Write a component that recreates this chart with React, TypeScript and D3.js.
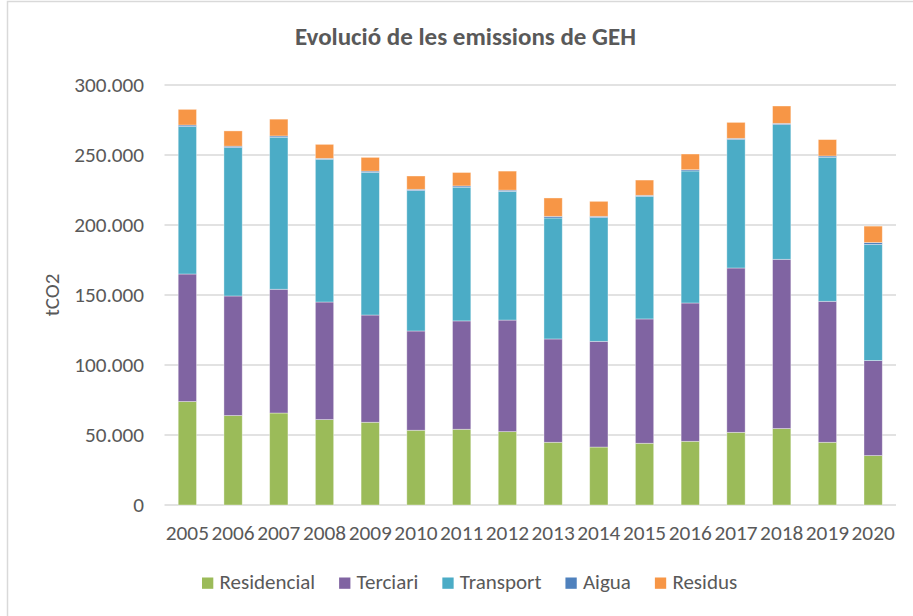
import React, { useEffect, useRef } from 'react';
import * as d3 from 'd3';

const years = ['2005', '2006', '2007', '2008', '2009', '2010', '2011', '2012', '2013', '2014', '2015', '2016', '2017', '2018', '2019', '2020'];
const residencial = [73900, 63900, 65700, 61000, 59100, 53400, 54100, 52400, 44800, 41400, 44100, 45500, 51900, 54600, 44800, 35300];
const terciari = [91100, 85400, 88400, 84000, 76600, 70900, 77400, 79700, 73800, 75500, 88800, 98800, 117400, 120900, 100700, 67900];
const transport = [105300, 106000, 108600, 101900, 101900, 100300, 95500, 91900, 86400, 88400, 87600, 94300, 91700, 96200, 102900, 82900];
const aigua = [1100, 1000, 900, 700, 900, 900, 900, 900, 1200, 900, 700, 900, 900, 900, 900, 1400];
const residus = [11200, 10900, 12000, 10000, 9800, 9500, 9600, 13600, 13100, 10700, 10900, 11200, 11400, 12400, 11700, 11700];

const seriesNames = ['Residencial', 'Terciari', 'Transport', 'Aigua', 'Residus'];
const seriesValues = [residencial, terciari, transport, aigua, residus];
const seriesColors = ['#9BBB59', '#8064A2', '#4BACC6', '#4F81BD', '#F79646'];
const yTicks = [0, 50000, 100000, 150000, 200000, 250000, 300000];

const FONT = "Calibri, Carlito, 'Open Sans', sans-serif";
const TEXT = '#595959';
const GRID = '#D9D9D9';

export default function App() {
  const svgRef = useRef<SVGSVGElement>(null);

  useEffect(() => {
    if (!svgRef.current) return;
    const svg = d3.select(svgRef.current);
    svg.selectAll('*').remove();

    const width = 913;
    const height = 616;
    const plot = { left: 164.5, right: 896, top: 85, bottom: 505 };

    // table: one row per year
    const rows = years.map((year, i) => {
      const row: Record<string, any> = { year };
      seriesNames.forEach((name, s) => { row[name] = seriesValues[s][i]; });
      return row;
    });
    const stacked = d3.stack<Record<string, any>>().keys(seriesNames)(rows);

    const x = d3.scaleBand()
      .domain(years)
      .range([plot.left, plot.right])
      .paddingInner(0.6)
      .paddingOuter(0.3);

    const y = d3.scaleLinear()
      .domain([0, 300000])
      .range([plot.bottom, plot.top]);

    const fmt = d3.formatLocale({ decimal: ',', thousands: '.', grouping: [3], currency: ['', ''] }).format(',');

    // chart border
    svg.append('rect')
      .attr('x', 7.5).attr('y', 1.5)
      .attr('width', width + 20).attr('height', height + 20)
      .attr('fill', 'white')
      .attr('stroke', GRID)
      .attr('stroke-width', 1.5);

    // title
    svg.append('text')
      .attr('x', 465.5).attr('y', 44.5)
      .attr('text-anchor', 'middle')
      .style('font-family', FONT)
      .style('font-size', '25px')
      .style('font-weight', 'bold')
      .style('fill', TEXT)
      .text('Evolució de les emissions de GEH');

    // gridlines
    svg.append('g')
      .selectAll('line')
      .data(yTicks)
      .enter()
      .append('line')
      .attr('x1', plot.left).attr('x2', plot.right)
      .attr('y1', d => y(d)).attr('y2', d => y(d))
      .attr('stroke', GRID)
      .attr('stroke-width', 1.5);

    // y tick labels
    svg.append('g')
      .selectAll('text')
      .data(yTicks)
      .enter()
      .append('text')
      .attr('x', 144)
      .attr('y', d => y(d))
      .attr('dy', '0.33em')
      .attr('text-anchor', 'end')
      .style('font-family', FONT)
      .style('font-size', '21.2px')
      .style('fill', TEXT)
      .text(d => fmt(d));

    // y axis title
    svg.append('text')
      .attr('transform', 'translate(59,295) rotate(-90)')
      .attr('text-anchor', 'middle')
      .style('font-family', FONT)
      .style('font-size', '21px')
      .style('fill', TEXT)
      .text('tCO2');

    // stacked bars
    svg.append('g')
      .selectAll('g')
      .data(stacked)
      .enter()
      .append('g')
      .attr('fill', (d, i) => seriesColors[i])
      .selectAll('rect')
      .data(d => d)
      .enter()
      .append('rect')
      .attr('x', d => x(d.data.year)!)
      .attr('y', d => y(d[1]))
      .attr('width', x.bandwidth())
      .attr('height', d => y(d[0]) - y(d[1]))
      .attr('stroke', 'white')
      .attr('stroke-opacity', 0.45)
      .attr('stroke-width', 0.8);

    // x labels
    svg.append('g')
      .selectAll('text')
      .data(years)
      .enter()
      .append('text')
      .attr('x', d => x(d)! + x.bandwidth() / 2)
      .attr('y', 539.5)
      .attr('text-anchor', 'middle')
      .style('font-family', FONT)
      .style('font-size', '21.3px')
      .style('fill', TEXT)
      .text(d => d);

    // legend
    const legend = svg.append('g');
    let lx = 202;
    seriesNames.forEach((name, i) => {
      legend.append('rect')
        .attr('x', lx).attr('y', 577.5)
        .attr('width', 11.3).attr('height', 11.3)
        .attr('fill', seriesColors[i]);
      const t = legend.append('text')
        .attr('x', lx + 17.5).attr('y', 589)
        .style('font-family', FONT)
        .style('font-size', '21px')
        .style('fill', TEXT)
        .text(name);
      const w = (t.node() as SVGTextElement).getComputedTextLength();
      lx += 17.5 + w + 24;
    });
  }, []);

  return (
    <svg
      ref={svgRef}
      width={913}
      height={616}
      style={{ position: 'absolute', left: 0, top: 0, display: 'block' }}
    ></svg>
  );
}
